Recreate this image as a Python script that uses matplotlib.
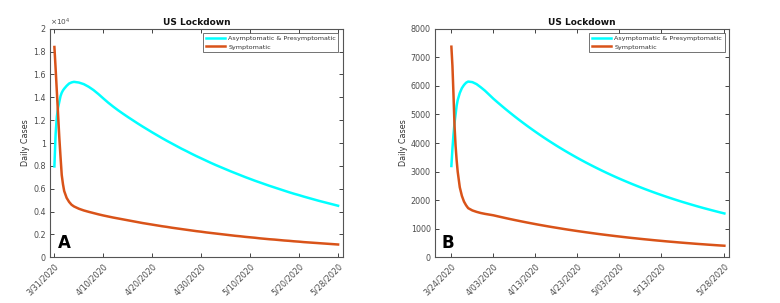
import matplotlib
matplotlib.use("Agg")
import matplotlib.pyplot as plt
from matplotlib.ticker import FuncFormatter, FixedLocator

# ---------------- Panel A data (day offset from 3/31/2020) ----------------
a_days_early = [0, 0.25, 0.5, 0.75, 1, 1.25, 1.5, 1.75, 2, 2.5, 3, 3.5, 4, 5, 6, 7, 8, 9]
a_asym_early = [7950, 10800, 12300, 13100, 13600, 14100, 14400, 14600, 14750, 15000, 15200, 15300,
                15350, 15290, 15150, 14920, 14630, 14280]
a_symp_early = [18400, 16500, 14500, 12500, 10500, 8800, 7200, 6400, 5800, 5200, 4850, 4600,
                4450, 4250, 4100, 3980, 3870, 3760]
a_days_late = list(range(10, 59))
a_asym_late = [13900, 13530, 13190, 12870, 12570, 12280, 12000, 11720, 11450, 11190,
               10930, 10680, 10430, 10190, 9960, 9730, 9500, 9290, 9070, 8860,
               8660, 8460, 8260, 8070, 7890, 7710, 7530, 7360, 7190, 7020,
               6860, 6700, 6550, 6400, 6250, 6110, 5970, 5830, 5690, 5560,
               5440, 5310, 5190, 5070, 4950, 4840, 4730, 4620, 4510]
a_symp_late = [3660, 3570, 3480, 3400, 3320, 3240, 3160, 3080, 3000, 2930,
               2860, 2790, 2720, 2660, 2590, 2530, 2470, 2410, 2350, 2290,
               2240, 2180, 2130, 2080, 2030, 1980, 1930, 1880, 1840, 1790,
               1750, 1710, 1660, 1620, 1580, 1550, 1510, 1470, 1440, 1400,
               1370, 1330, 1300, 1270, 1240, 1210, 1180, 1150, 1120]
a_tick_days = [0, 10, 20, 30, 40, 50, 58]
a_tick_labels = ["3/31/2020", "4/10/2020", "4/20/2020", "4/30/2020", "5/10/2020", "5/20/2020", "5/28/2020"]

# ---------------- Panel B data (day offset from 3/24/2020) ----------------
b_days_early = [0, 0.25, 0.5, 0.75, 1, 1.25, 1.5, 2, 2.5, 3, 3.5, 4, 5, 6, 7, 8, 9]
b_asym_early = [3195, 3800, 4300, 4700, 5000, 5300, 5500, 5750, 5920, 6030, 6110, 6150,
                6130, 6060, 5950, 5830, 5690]
b_symp_early = [7370, 6700, 5700, 4600, 3900, 3400, 3000, 2450, 2150, 1950, 1820, 1720,
                1640, 1590, 1550, 1520, 1495]
b_days_late = list(range(10, 66))
b_asym_late = [5550, 5422, 5297, 5174, 5055, 4938, 4824, 4713, 4604, 4498,
               4394, 4292, 4193, 4096, 4002, 3909, 3819, 3731, 3645, 3561,
               3478, 3398, 3319, 3243, 3168, 3095, 3023, 2953, 2885, 2818,
               2753, 2690, 2628, 2567, 2508, 2450, 2393, 2338, 2284, 2231,
               2180, 2129, 2080, 2032, 1985, 1939, 1895, 1851, 1808, 1766,
               1725, 1686, 1647, 1609, 1571, 1535]
b_symp_late = [1470, 1436, 1403, 1370, 1338, 1307, 1277, 1247, 1218, 1190,
               1162, 1135, 1109, 1083, 1058, 1034, 1010, 986, 963, 941,
               919, 898, 877, 857, 837, 817, 798, 780, 762, 744,
               727, 710, 693, 677, 662, 646, 631, 617, 602, 588,
               575, 561, 548, 536, 523, 511, 499, 488, 476, 465,
               455, 444, 434, 424, 414, 405]
b_tick_days = [0, 10, 20, 30, 40, 50, 65]
b_tick_labels = ["3/24/2020", "4/03/2020", "4/13/2020", "4/23/2020", "5/03/2020", "5/13/2020", "5/28/2020"]

series_labels = ["Asymptomatic & Presymptomatic", "Symptomatic"]
title = "US Lockdown"
ylabel = "Daily Cases"

CYAN = "#00FFFF"
ORANGE = "#D95319"
AXC = "#262626"
TXT = "#4D4D4D"

fig = plt.figure(figsize=(7.8, 3.03), dpi=100)
axA = fig.add_axes([0.0641, 0.1508, 0.3756, 0.7545])
axB = fig.add_axes([0.5577, 0.1508, 0.3769, 0.7545])


def style(ax, tick_days, tick_labels, xlim, ylim, yticks, yfmt):
    ax.set_xlim(*xlim)
    ax.set_ylim(*ylim)
    ax.xaxis.set_major_locator(FixedLocator(tick_days))
    ax.set_xticklabels(tick_labels, rotation=45, ha="right", rotation_mode="anchor",
                       fontsize=5.6, color=TXT)
    ax.set_yticks(yticks)
    ax.yaxis.set_major_formatter(FuncFormatter(yfmt))
    ax.tick_params(axis="both", direction="in", length=3, width=0.6, colors=AXC,
                   labelcolor=TXT, top=True, right=True, labelsize=5.8, pad=3)
    ax.tick_params(axis="x", pad=3)
    for s in ax.spines.values():
        s.set_color("#555555")
        s.set_linewidth(0.8)
    ax.set_title(title, fontsize=6.5, fontweight="bold", color="#111111", pad=3)
    ax.set_ylabel(ylabel, fontsize=5.8, color="#333333", labelpad=2)
    leg = ax.legend(loc="upper right", fontsize=4.6, frameon=True, fancybox=False,
                    edgecolor="#333333", handlelength=3.0, borderpad=0.4,
                    labelspacing=0.45, handletextpad=0.5, borderaxespad=0.7)
    leg.get_frame().set_linewidth(0.6)
    for t in leg.get_texts():
        t.set_color("#333333")


# Panel A
axA.plot(a_days_early + a_days_late, a_asym_early + a_asym_late, color=CYAN, lw=1.8,
         label=series_labels[0])
axA.plot(a_days_early + a_days_late, a_symp_early + a_symp_late, color=ORANGE, lw=1.8,
         label=series_labels[1])
style(axA, a_tick_days, a_tick_labels, (-0.9, 59.0), (0, 20000),
      [i * 2000 for i in range(11)], lambda v, p: "%g" % (v / 1e4))
axA.text(0.0, 1.004, r"$\times10^4$", transform=axA.transAxes, fontsize=5.3,
         color=TXT, ha="left", va="bottom")
axA.text(0.027, 0.042, "A", transform=axA.transAxes, fontsize=12, fontweight="bold",
         color="black", ha="left", va="baseline")

# Panel B
axB.plot(b_days_early + b_days_late, b_asym_early + b_asym_late, color=CYAN, lw=1.8,
         label=series_labels[0])
axB.plot(b_days_early + b_days_late, b_symp_early + b_symp_late, color=ORANGE, lw=1.8,
         label=series_labels[1])
style(axB, b_tick_days, b_tick_labels, (-3.9, 66.1), (0, 8000),
      [i * 1000 for i in range(9)], lambda v, p: "%d" % v)
axB.text(0.023, 0.042, "B", transform=axB.transAxes, fontsize=12, fontweight="bold",
         color="black", ha="left", va="baseline")

fig.savefig("out.png", dpi=100, facecolor="white")
